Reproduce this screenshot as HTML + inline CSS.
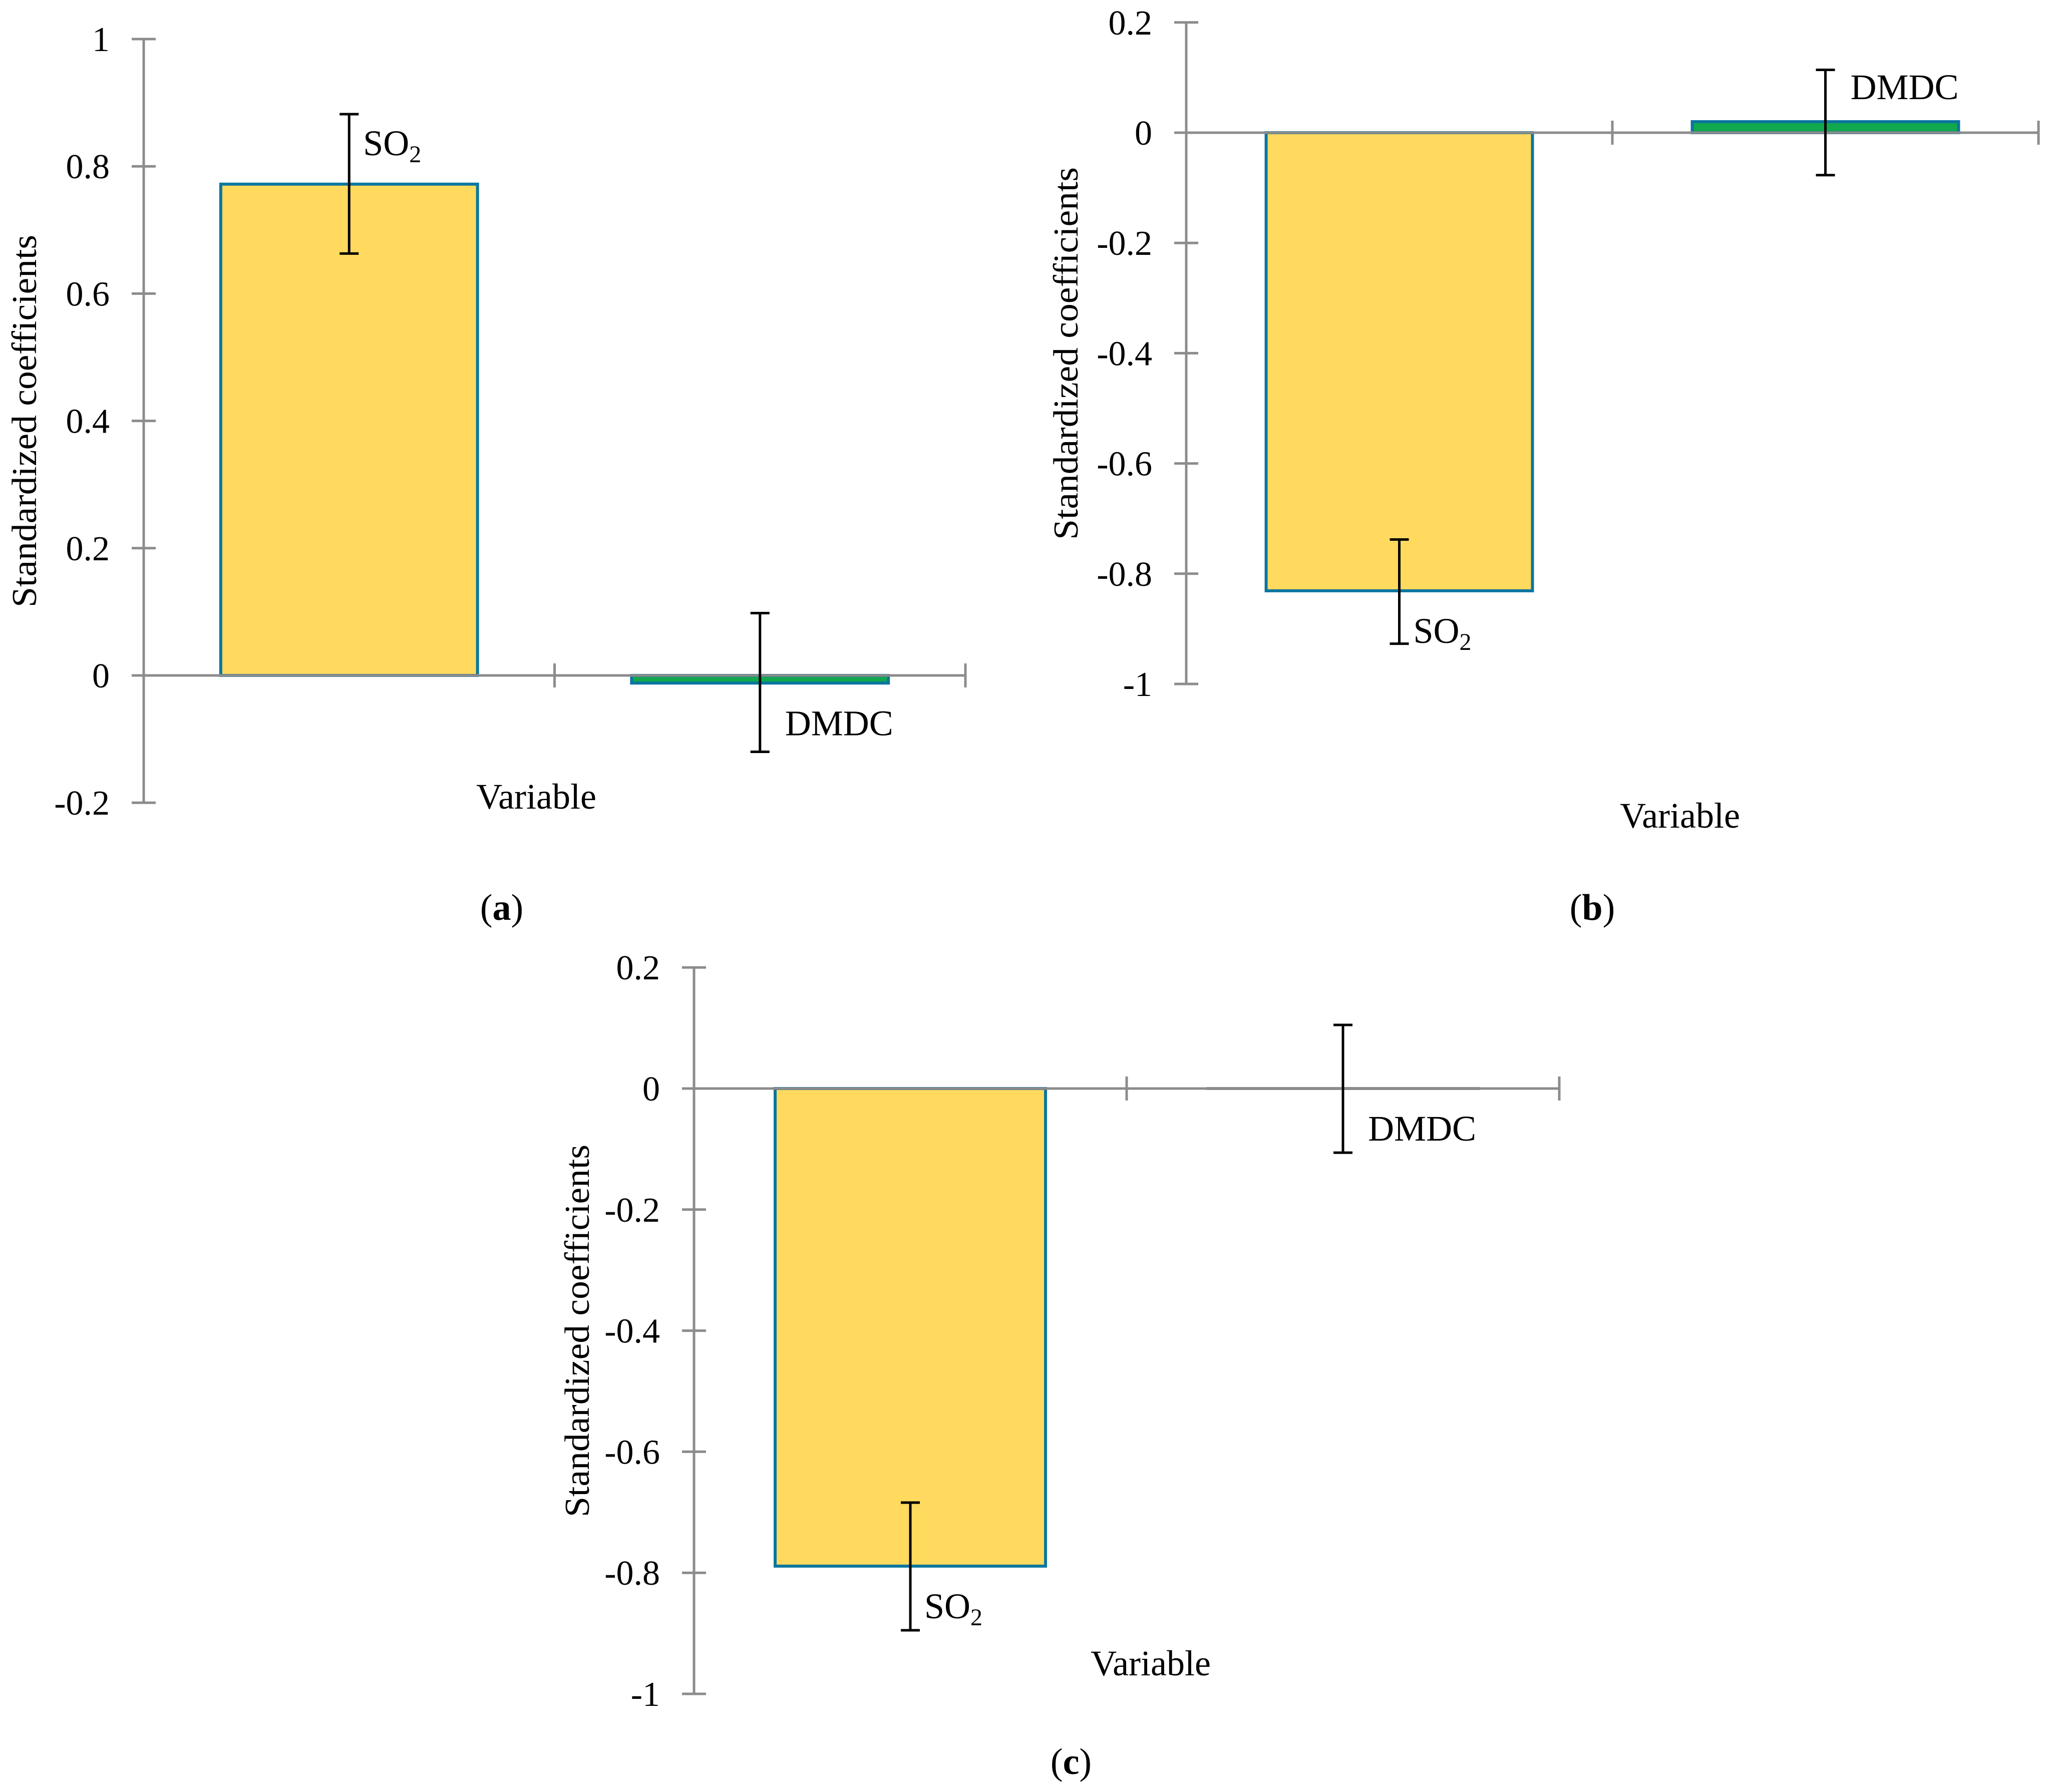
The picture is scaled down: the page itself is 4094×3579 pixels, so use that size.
<!DOCTYPE html>
<html><head><meta charset="utf-8"><style>
html,body{margin:0;padding:0;background:#fff;}
svg{display:block;font-family:"Liberation Serif",serif;}
text{font-family:"Liberation Serif",serif;}
</style></head><body>
<svg id="fig" width="4094" height="3579" viewBox="0 0 4094 3579" xmlns="http://www.w3.org/2000/svg"></svg>
<script>
const categories = ["SO2", "DMDC"];
const valuesA = [0.772, -0.012];
const errLowA = [0.663, -0.12];
const errHighA = [0.882, 0.098];
const valuesB = [-0.831, 0.02];
const errLowB = [-0.927, -0.077];
const errHighB = [-0.738, 0.114];
const valuesC = [-0.789, 0.0];
const errLowC = [-0.895, -0.106];
const errHighC = [-0.684, 0.105];
const ticksA = [1, 0.8, 0.6, 0.4, 0.2, 0, -0.2];
const ticksBC = [0.2, 0, -0.2, -0.4, -0.6, -0.8, -1];

const NS = "http://www.w3.org/2000/svg";
const svg = document.getElementById('fig');
const GRAY = "#8c8c8c", EDGE = "#0b769f", YEL = "#ffda5e", GRN = "#12a84e";
const FONT = '"Liberation Serif", serif';
function mk(tag, attrs, parent){ const e=document.createElementNS(NS,tag); for(const k in attrs) e.setAttribute(k, attrs[k]); if(tag==='text') e.setAttribute('font-family',FONT); (parent||svg).appendChild(e); return e; }

const panels = [
 {id:'a', ax:287, zero:1349, ppu:1271, xEnd:1928, vals:valuesA, lo:errLowA, hi:errHighA, ticks:ticksA, colors:[YEL,GRN], edges:[EDGE,EDGE],
  varX:1071, varY:1615, capX:1002, capY:1837, titX:48, titY:841},
 {id:'b', ax:2369, zero:265, ppu:1101, xEnd:4071, vals:valuesB, lo:errLowB, hi:errHighB, ticks:ticksBC, colors:[YEL,GRN], edges:[EDGE,EDGE],
  varX:3355, varY:1653, capX:3180, capY:1837, titX:2128, titY:706},
 {id:'c', ax:1386, zero:2174, ppu:1209, xEnd:3114, vals:valuesC, lo:errLowC, hi:errHighC, ticks:ticksBC, colors:[YEL,YEL], edges:[EDGE,GRAY],
  varX:2298, varY:3346, capX:2139, capY:3543, titX:1152, titY:2658}
];

panels.forEach(p=>{
  const g = mk('g',{});
  
  
  const y = v => p.zero - v*p.ppu;
  const band = (p.xEnd - p.ax)/categories.length;
  const cx = i => p.ax + band*(i+0.5);
  const ya = mk('line',{x1:p.ax,x2:p.ax,y1:y(p.ticks[0]),y2:y(p.ticks[p.ticks.length-1]),stroke:GRAY,'stroke-width':5},g);
   
  p.ticks.forEach(t=>{
    const tl = mk('line',{x1:p.ax-24,x2:p.ax+24,y1:y(t),y2:y(t),stroke:GRAY,'stroke-width':5},g);
     
    const tx = mk('text',{x:p.ax-68,y:y(t)+24,'font-size':70,'text-anchor':'end',fill:'#000'},g);
     
    tx.textContent = String(t);
  });
  p.vals.forEach((v,i)=>{
    const w = band*0.625, x0 = cx(i)-w/2;
    const top = Math.min(y(v),y(0)), h = Math.abs(y(v)-y(0));
    const r = mk('rect',{x:x0,y:top,width:w,height:Math.max(h,0.01),fill:p.colors[i],stroke:p.edges[i],'stroke-width':6},g);
    
    
  });
  const xa = mk('line',{x1:p.ax,x2:p.xEnd,y1:y(0),y2:y(0),stroke:GRAY,'stroke-width':5},g);
   
  for(let k=1;k<=categories.length;k++){
    const xt = mk('line',{x1:p.ax+band*k,x2:p.ax+band*k,y1:y(0)-24,y2:y(0)+24,stroke:GRAY,'stroke-width':5},g);
     
  }
  p.vals.forEach((v,i)=>{
    const x = cx(i);
    const eg = mk('g',{stroke:'#000','stroke-width':5},g);
    
    
    mk('line',{x1:x,x2:x,y1:y(p.hi[i]),y2:y(p.lo[i])},eg);
    mk('line',{x1:x-19,x2:x+19,y1:y(p.hi[i]),y2:y(p.hi[i])},eg);
    mk('line',{x1:x-19,x2:x+19,y1:y(p.lo[i]),y2:y(p.lo[i])},eg);
    const ly = v>0 ? y(v)-(i===0?58:45) : y(v)+104;
    const off = categories[i]==='SO2' ? 28 : 50;
    const lt = mk('text',{x:x+off,y:ly,'font-size':72,fill:'#000'},g);
    
    
    if(categories[i]==='SO2'){
      lt.textContent='SO';
      const s = mk('tspan',{'font-size':48,dy:14},lt); s.textContent='2';
    } else lt.textContent=categories[i];
  });
  const vt = mk('text',{x:p.varX,y:p.varY,'font-size':72,'text-anchor':'middle',fill:'#000'},g);
   
  vt.textContent='Variable';
  const tt = mk('text',{x:0,y:0,'font-size':70,'text-anchor':'middle',fill:'#000',textLength:744,lengthAdjust:'spacingAndGlyphs',
    transform:`translate(${p.titX+24},${p.titY}) rotate(-90)`},g);
   
  tt.textContent='Standardized coefficients';
  const ct = mk('text',{x:p.capX,y:p.capY,'font-size':74,'text-anchor':'middle',fill:'#000'},g);
   
  ct.textContent='(';
  const b = mk('tspan',{'font-weight':'bold'},ct); b.textContent=p.id;
  const cl = mk('tspan',{},ct); cl.textContent=')';
});
</script>
</body></html>
